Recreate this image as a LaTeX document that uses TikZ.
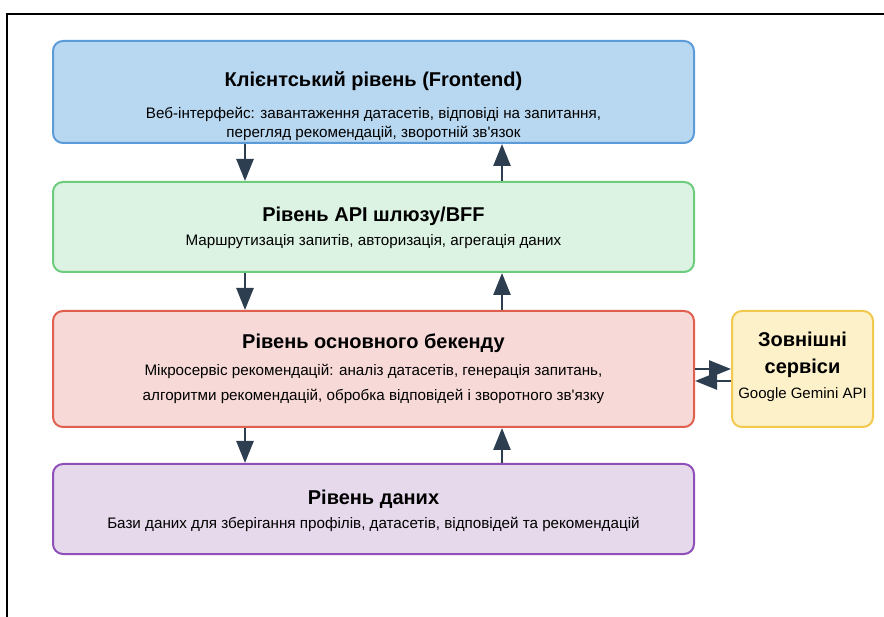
\documentclass[tikz,border=0pt]{standalone}
\usepackage{fontspec}
\setmainfont{Liberation Sans}[Ligatures=TeXOff]
\usetikzlibrary{arrows.meta}
\definecolor{feFill}{HTML}{B8D7F0}
\definecolor{feDraw}{HTML}{5B9BD8}
\definecolor{apiFill}{HTML}{DCF3E3}
\definecolor{apiDraw}{HTML}{6DCB7C}
\definecolor{beFill}{HTML}{F7DAD8}
\definecolor{beDraw}{HTML}{E0604F}
\definecolor{dbFill}{HTML}{E6D9EC}
\definecolor{dbDraw}{HTML}{8E4FB8}
\definecolor{exFill}{HTML}{FCF1C8}
\definecolor{exDraw}{HTML}{F2C94C}
\definecolor{arr}{HTML}{2D3E50}
\tikzset{
  layerbox/.style={rectangle, rounded corners=10pt, line width=2pt, minimum width=641pt, inner sep=0pt},
  ttl/.style={font=\fontsize{20}{23}\selectfont\bfseries, anchor=base, inner sep=0pt},
  sub/.style={font=\fontsize{15.2}{18}\selectfont, anchor=base, inner sep=0pt},
  flow/.style={draw=arr, line width=2.6pt, -{Triangle[width=17pt,length=22pt]}},
}
\begin{document}
\begin{tikzpicture}[x=1pt,y=-1pt]
\useasboundingbox (0,0) rectangle (884,617);
\draw[line width=1.6pt] (7,617) -- (7,14) -- (884,14);
% boxes
\node[layerbox, fill=feFill, draw=feDraw, minimum height=102pt] (fe) at (373.5,92) {};
\node[layerbox, fill=apiFill, draw=apiDraw, minimum height=90pt] (api) at (373.5,227) {};
\node[layerbox, fill=beFill, draw=beDraw, minimum height=116pt] (be) at (373.5,369) {};
\node[layerbox, fill=dbFill, draw=dbDraw, minimum height=90pt] (db) at (373.5,509) {};
\node[rectangle, rounded corners=10pt, line width=2pt, fill=exFill, draw=exDraw, minimum width=141pt, minimum height=116pt] (ex) at (802.5,369) {};
% texts
\node[ttl] (feT) at (373.5,86.5) {Клієнтський рівень (Frontend)};
\node[sub] (feS1) at (373.5,118.5) {Веб-інтерфейс: завантаження датасетів, відповіді на запитання,};
\node[sub] (feS2) at (373.5,137.5) {перегляд рекомендацій, зворотній зв'язок};
\node[ttl] (apiT) at (373.5,222) {Рівень API шлюзу/BFF};
\node[sub] (apiS) at (373.5,246) {Маршрутизація запитів, авторизація, агрегація даних};
\node[ttl] (beT) at (373.5,348.5) {Рівень основного бекенду};
\node[sub] (beS1) at (373.5,375.5) {Мікросервіс рекомендацій: аналіз датасетів, генерація запитань,};
\node[sub] (beS2) at (373.5,401) {алгоритми рекомендацій, обробка відповідей і зворотного зв'язку};
\node[ttl] (dbT) at (373.5,504) {Рівень даних};
\node[sub] (dbS) at (373.5,528) {Бази даних для зберігання профілів, датасетів, відповідей та рекомендацій};
\node[ttl] (exT1) at (802.5,347) {Зовнішні};
\node[ttl] (exT2) at (802.5,373.5) {сервіси};
\node[sub, font=\fontsize{15}{18}\selectfont] (exS) at (802.5,399) {Google Gemini API};
% vertical connectors
\draw[flow] (fe.south -| 245,0) -- (api.north -| 245,0);
\draw[flow] (api.north -| 502,0) -- (fe.south -| 502,0);
\draw[flow] (api.south -| 245,0) -- (be.north -| 245,0);
\draw[flow] (be.north -| 502,0) -- (api.south -| 502,0);
\draw[flow] (be.south -| 245,0) -- (db.north -| 245,0);
\draw[flow] (db.north -| 502,0) -- (be.south -| 502,0);
% horizontal connectors
\draw[flow] (be.east |- 0,369) -- (ex.west |- 0,369);
\draw[flow] (ex.west |- 0,381) -- (be.east |- 0,381);
\end{tikzpicture}
\end{document}
